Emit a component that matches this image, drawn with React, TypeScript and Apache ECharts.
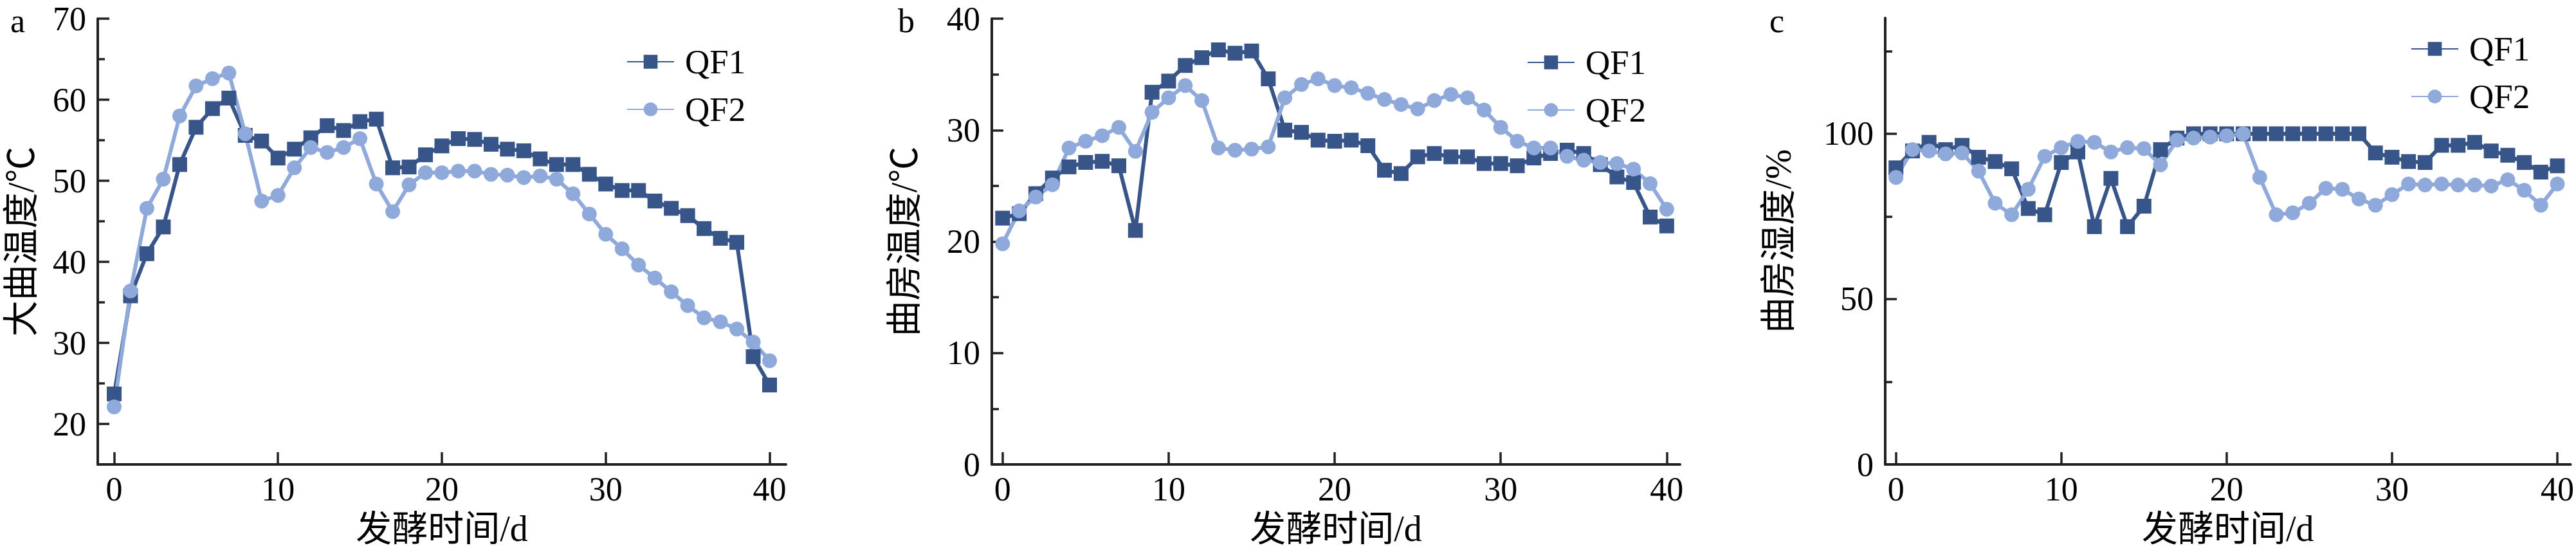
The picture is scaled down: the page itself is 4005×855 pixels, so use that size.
import React, { useEffect, useRef } from "react";
import * as echarts from "echarts";

// ---------- data ----------
const days = [0, 1, 2, 3, 4, 5, 6, 7, 8, 9, 10, 11, 12, 13, 14, 15, 16, 17, 18, 19, 20, 21, 22, 23, 24, 25, 26, 27, 28, 29, 30, 31, 32, 33, 34, 35, 36, 37, 38, 39, 40];

// a: 大曲温度 (°C)
const qf1KojiTemp = [23.7, 35.8, 41.0, 44.3, 52.0, 56.6, 58.9, 60.2, 55.6, 54.9, 52.8, 53.9, 55.3, 56.8, 56.2, 57.3, 57.6, 51.6, 51.7, 53.2, 54.3, 55.2, 55.1, 54.5, 53.9, 53.7, 52.7, 52.0, 52.0, 50.8, 49.6, 48.8, 48.8, 47.5, 46.6, 45.7, 44.1, 42.9, 42.4, 28.3, 24.8];
const qf2KojiTemp = [22.1, 36.4, 46.6, 50.2, 58.0, 61.7, 62.6, 63.3, 55.8, 47.5, 48.2, 51.6, 54.1, 53.5, 54.1, 55.2, 49.6, 46.2, 49.5, 51.0, 51.0, 51.2, 51.2, 50.8, 50.7, 50.4, 50.6, 50.2, 48.4, 45.9, 43.4, 41.6, 39.6, 38.0, 36.3, 34.6, 33.1, 32.6, 31.7, 30.1, 27.8];

// b: 曲房温度 (°C)
const qf1RoomTemp = [22.1, 22.5, 24.3, 25.7, 26.7, 27.1, 27.2, 26.8, 21.0, 33.4, 34.4, 35.8, 36.5, 37.2, 36.9, 37.1, 34.6, 30.0, 29.8, 29.1, 29.0, 29.1, 28.6, 26.4, 26.1, 27.6, 27.9, 27.6, 27.6, 27.0, 27.0, 26.8, 27.5, 27.9, 28.2, 27.9, 26.9, 25.8, 25.3, 22.2, 21.4];
const qf2RoomTemp = [19.8, 22.75, 24.0, 25.1, 28.4, 29.0, 29.5, 30.25, 28.1, 31.6, 32.9, 34.0, 32.65, 28.4, 28.2, 28.3, 28.5, 32.9, 34.1, 34.6, 34.0, 33.8, 33.3, 32.75, 32.3, 31.9, 32.65, 33.2, 32.9, 31.8, 30.25, 29.0, 28.4, 28.4, 27.65, 27.3, 27.1, 27.0, 26.5, 25.2, 22.9];

// c: 曲房湿度 (%)
const qf1RoomHum = [89.7, 94.8, 97.4, 95.2, 96.5, 92.9, 91.6, 89.4, 77.4, 75.5, 91.3, 94.5, 71.9, 86.5, 71.9, 78.1, 95.2, 98.7, 100, 100, 100, 100, 100, 100, 100, 100, 100, 100, 100, 94.2, 92.9, 91.6, 91.3, 96.5, 96.5, 97.4, 94.8, 93.5, 91.3, 88.4, 90.3];
const qf2RoomHum = [86.8, 95.2, 94.8, 93.9, 94.2, 88.7, 79.0, 75.5, 83.2, 93.2, 95.8, 97.7, 97.4, 94.5, 95.8, 95.5, 90.6, 98.1, 98.7, 99.0, 99.4, 100, 86.8, 75.5, 76.1, 79.0, 83.5, 83.2, 80.3, 78.4, 81.6, 84.8, 84.5, 84.8, 84.5, 84.5, 84.2, 86.1, 82.9, 78.4, 84.8];

const seriesNames = ["QF1", "QF2"];
const xTickValues = [0, 10, 20, 30, 40];
const aMajorTicks = [20, 30, 40, 50, 60, 70];
const aMinorTicks = [25, 35, 45, 55, 65];
const bMajorTicks = [0, 10, 20, 30, 40];
const bMinorTicks = [5, 15, 25, 35];
const cMajorTicks = [0, 50, 100];
const cMinorTicks = [25, 75, 125];
const xAxisName = "发酵时间/d";
const panelLetters = ["a", "b", "c"];
const yAxisNames = ["大曲温度/℃", "曲房温度/℃", "曲房湿度/%"];

// ---------- style / layout ----------
const FONT = "'Liberation Serif', 'Times New Roman', 'Noto Sans CJK SC', serif";
const AXIS_COLOR = "#231f20";
const COLOR_QF1 = "#385589";
const COLOR_QF2 = "#8ea9da";

const panels = [
  {
    letterX: 16, gridLeft: 152, gridTop: 29, gridHeight: 695,
    xMin: -1, xMax: 41, yMin: 15, yMax: 70,
    major: aMajorTicks, minor: aMinorTicks, nameGap: 91,
    s1: qf1KojiTemp, s2: qf2KojiTemp, legendLeft: 974, legendTop: 69,
  },
  {
    letterX: 1396, gridLeft: 1542, gridTop: 29, gridHeight: 695,
    xMin: -0.65, xMax: 40.8, yMin: 0, yMax: 40,
    major: bMajorTicks, minor: bMinorTicks, nameGap: 108,
    s1: qf1RoomTemp, s2: qf2RoomTemp, legendLeft: 2374, legendTop: 70,
  },
  {
    letterX: 2751, gridLeft: 2931, gridTop: 28, gridHeight: 696,
    xMin: -0.65, xMax: 40.8, yMin: 0, yMax: 135,
    major: cMajorTicks, minor: cMinorTicks, nameGap: 138,
    s1: qf1RoomHum, s2: qf2RoomHum, legendLeft: 3748, legendTop: 49,
  },
];
const GRID_WIDTH = 1070;

function buildOption() {
  const grid: any[] = [];
  const xAxis: any[] = [];
  const yAxis: any[] = [];
  const series: any[] = [];
  const legend: any[] = [];
  const graphic: any[] = [];

  panels.forEach((p, i) => {
    grid.push({ left: p.gridLeft, top: p.gridTop, width: GRID_WIDTH, height: p.gridHeight, containLabel: false });

    xAxis.push({
      type: "value",
      gridIndex: i,
      min: p.xMin,
      max: p.xMax,
      axisLine: { show: true, onZero: false, lineStyle: { color: AXIS_COLOR, width: 4 } },
      axisTick: { show: true, inside: true, length: 19, customValues: xTickValues, lineStyle: { color: AXIS_COLOR, width: 3.5 } },
      axisLabel: { show: true, customValues: xTickValues, margin: 12, fontSize: 52, fontFamily: FONT, color: "#000" },
      splitLine: { show: false },
      name: xAxisName,
      nameLocation: "middle",
      nameGap: 72,
      nameTextStyle: { fontSize: 56, fontFamily: FONT, color: "#000" },
    });

    yAxis.push({
      type: "value",
      gridIndex: i,
      position: "left",
      min: p.yMin,
      max: p.yMax,
      axisLine: { show: true, onZero: false, lineStyle: { color: AXIS_COLOR, width: 4 } },
      axisTick: { show: true, inside: true, length: 18, customValues: p.major, lineStyle: { color: AXIS_COLOR, width: 3.5 } },
      axisLabel: { show: true, customValues: p.major, margin: 18, fontSize: 52, fontFamily: FONT, color: "#000" },
      splitLine: { show: false },
      name: yAxisNames[i],
      nameLocation: "middle",
      nameGap: p.nameGap,
      nameTextStyle: { fontSize: 56, fontFamily: FONT, color: "#000" },
    });
    // minor ticks axis (decoration only)
    yAxis.push({
      type: "value",
      gridIndex: i,
      position: "left",
      offset: 0,
      min: p.yMin,
      max: p.yMax,
      axisLine: { show: false, onZero: false },
      axisTick: { show: true, inside: true, length: 11, customValues: p.minor, lineStyle: { color: AXIS_COLOR, width: 3.5 } },
      axisLabel: { show: false },
      splitLine: { show: false },
    });

    const mk = (name: string, values: number[], color: string, symbol: string) => ({
      type: "line",
      name,
      xAxisIndex: i,
      yAxisIndex: i * 2,
      data: days.map((d, k) => [d, values[k]]),
      symbol,
      symbolSize: 23,
      showAllSymbol: true,
      lineStyle: { width: 6, color },
      itemStyle: { color },
      emphasis: { disabled: true },
    });
    series.push(mk(seriesNames[0], p.s1, COLOR_QF1, "rect"));
    series.push(mk(seriesNames[1], p.s2, COLOR_QF2, "circle"));

    legend.push({
      orient: "vertical",
      left: p.legendLeft,
      top: p.legendTop,
      padding: 0,
      itemWidth: 73,
      itemHeight: 27,
      itemGap: 20,
      selectedMode: false,
      data: seriesNames,
      textStyle: { fontSize: 53, fontFamily: FONT, color: "#000", lineHeight: 54, padding: [0, 0, 0, 12] },
    });

    graphic.push({
      type: "text",
      x: p.letterX,
      y: 2,
      style: {
        text: panelLetters[i],
        fontSize: 52,
        lineHeight: 60,
        fontFamily: FONT,
        fill: "#000",
        textAlign: "left",
        verticalAlign: "top",
      },
    });
  });

  return {
    animation: false,
    backgroundColor: "#fff",
    grid,
    xAxis,
    yAxis,
    series,
    legend,
    graphic,
  };
}

export default function App() {
  const ref = useRef<HTMLDivElement>(null);
  useEffect(() => {
    if (!ref.current) return;
    const chart = echarts.init(ref.current, null, { renderer: "svg" });
    chart.setOption(buildOption() as any);
    return () => chart.dispose();
  }, []);
  return (
    <div
      ref={ref}
      style={{ position: "fixed", left: 0, top: 0, width: 4005, height: 855, background: "#fff" }}
    />
  );
}
